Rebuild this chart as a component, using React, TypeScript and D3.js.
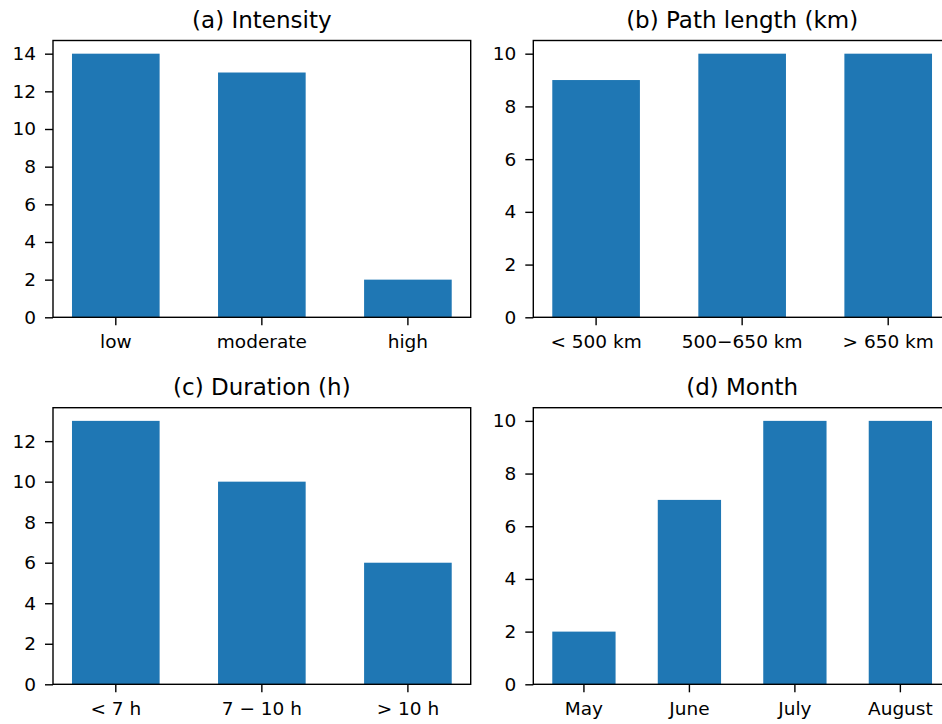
import React, { useEffect, useRef } from 'react';
import * as d3 from 'd3';

// chart data
const intensityCats = ['low', 'moderate', 'high'];
const intensityCounts = [14, 13, 2];
const pathCats = ['< 500 km', '500\u2212650 km', '> 650 km'];
const pathCounts = [9, 10, 10];
const durationCats = ['< 7 h', '7 \u2212 10 h', '> 10 h'];
const durationCounts = [13, 10, 6];
const monthCats = ['May', 'June', 'July', 'August'];
const monthCounts = [2, 7, 10, 10];

const panelTitles = ['(a) Intensity', '(b) Path length (km)', '(c) Duration (h)', '(d) Month'];
const yTicks = [
  [0, 2, 4, 6, 8, 10, 12, 14],
  [0, 2, 4, 6, 8, 10],
  [0, 2, 4, 6, 8, 10, 12],
  [0, 2, 4, 6, 8, 10],
];

const width = 942;
const height = 724;
const font = 'DejaVu Sans, sans-serif';
const barColor = '#1f77b4';

function App() {
  const ref = useRef<SVGSVGElement>(null);

  useEffect(() => {
    const svg = d3.select(ref.current);
    svg.selectAll('*').remove();

    const panels = [
      { cats: intensityCats, vals: intensityCounts, x0: 53, x1: 470.7, y0: 40.5, y1: 317.3 },
      { cats: pathCats, vals: pathCounts, x0: 533.3, x1: 951, y0: 40.5, y1: 317.3 },
      { cats: durationCats, vals: durationCounts, x0: 53, x1: 470.7, y0: 407.7, y1: 684.3 },
      { cats: monthCats, vals: monthCounts, x0: 533.3, x1: 951, y0: 407.7, y1: 684.3 },
    ];

    panels.forEach((p, i) => {
      const n = p.cats.length;
      // matplotlib-like: bar width 0.6, 5% margins
      const x = d3.scaleBand()
        .domain(p.cats)
        .range([p.x0, p.x1])
        .paddingInner(0.4)
        .paddingOuter(0.05 * (n - 0.4));

      const maxV = d3.max(p.vals) as number;
      const y = d3.scaleLinear()
        .domain([0, maxV * 1.05])
        .range([p.y1, p.y0]);

      const g = svg.append('g');

      g.selectAll('rect.bar')
        .data(p.vals)
        .join('rect')
        .attr('class', 'bar')
        .attr('x', (d, j) => x(p.cats[j]) as number)
        .attr('width', x.bandwidth())
        .attr('y', d => y(d))
        .attr('height', d => y(0) - y(d))
        .attr('fill', barColor);

      // y axis
      g.append('g')
        .attr('transform', `translate(${p.x0},0)`)
        .call(d3.axisLeft(y).tickValues(yTicks[i]).tickSize(8).tickPadding(9).tickFormat(d3.format('d')))
        .call(a => a.select('.domain').remove())
        .call(a => a.selectAll('.tick line').attr('stroke', '#000').attr('stroke-width', 1.4))
        .call(a => a.selectAll('.tick text')
          .attr('font-family', font)
          .attr('font-size', 18.5)
          .attr('fill', '#000'));

      // x axis
      g.append('g')
        .attr('transform', `translate(0,${p.y1})`)
        .call(d3.axisBottom(x).tickSize(8).tickPadding(10))
        .call(a => a.select('.domain').remove())
        .call(a => a.selectAll('.tick line').attr('stroke', '#000').attr('stroke-width', 1.4))
        .call(a => a.selectAll('.tick text')
          .attr('font-family', font)
          .attr('font-size', 18.5)
          .attr('fill', '#000'));

      // frame
      g.append('rect')
        .attr('x', p.x0)
        .attr('y', p.y0)
        .attr('width', p.x1 - p.x0)
        .attr('height', p.y1 - p.y0)
        .attr('fill', 'none')
        .attr('stroke', '#000')
        .attr('stroke-width', 1.4);

      g.append('text')
        .attr('x', (p.x0 + p.x1) / 2)
        .attr('y', p.y0 - 13)
        .attr('text-anchor', 'middle')
        .attr('font-family', font)
        .attr('font-size', 23)
        .attr('fill', '#000')
        .text(panelTitles[i]);
    });
  }, []);

  return (
    <div>
      <svg
        ref={ref}
        width={width}
        height={height}
        style={{ position: 'absolute', left: 0, top: 0, background: '#fff', overflow: 'hidden' }}
      />
    </div>
  );
}

export default App;
